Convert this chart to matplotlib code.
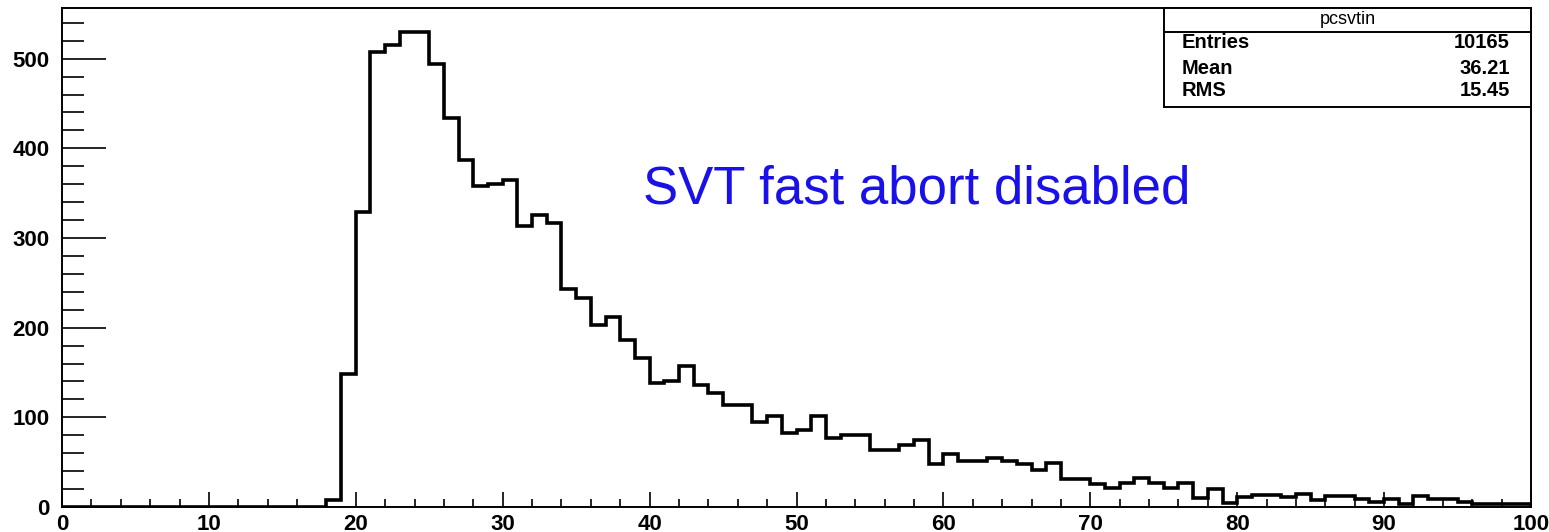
import numpy as np
import matplotlib
matplotlib.use("Agg")
import matplotlib.pyplot as plt
from matplotlib.ticker import MultipleLocator

W, H, DPI = 1549, 532, 100

# histogram pcsvtin: 100 bins on [0, 100]
BIN_LOW, BIN_HIGH, N_BINS = 0, 100, 100
COUNTS = [0] * 18 + [
    8, 148, 329, 507, 515, 530, 530, 494, 434, 387,
    358, 360, 365, 313, 326, 317, 243, 233, 203, 212,
    186, 166, 138, 141, 157, 136, 127, 114, 114, 95,
    101, 82, 86, 101, 77, 80, 80, 64, 64, 69,
    75, 48, 59, 51, 51, 55, 51, 48, 41, 49,
    31, 31, 26, 21, 27, 32, 27, 21, 27, 10,
    20, 4, 11, 13, 13, 11, 14, 8, 12, 12,
    9, 6, 9, 3, 12, 9, 9, 6, 3, 3,
    3, 3,
]

STATS_TITLE = "pcsvtin"
STATS_NAMES = ["Entries", "Mean", "RMS"]
STATS_VALUES = ["10165", "36.21", "15.45"]
NOTE = "SVT fast abort disabled"

plt.rcParams["font.family"] = ["Liberation Sans", "DejaVu Sans"]

fig = plt.figure(figsize=(W / DPI, H / DPI), dpi=DPI)
fig.patch.set_facecolor("white")

L, R, T, B = 62, 1531, 8, 507
ax = fig.add_axes([L / W, (H - B) / H, (R - L) / W, (B - T) / H])

edges = np.linspace(BIN_LOW, BIN_HIGH, N_BINS + 1)
ax.stairs(COUNTS, edges, color="black", linewidth=2.6, baseline=0)

ax.set_xlim(BIN_LOW, BIN_HIGH)
ax.set_ylim(0, max(COUNTS) * 1.05)

ax.xaxis.set_major_locator(MultipleLocator(10))
ax.xaxis.set_minor_locator(MultipleLocator(2))
ax.yaxis.set_major_locator(MultipleLocator(100))
ax.yaxis.set_minor_locator(MultipleLocator(20))

ax.tick_params(axis="x", which="major", direction="in", length=11, width=1.2, pad=5,
               labelsize=16, top=False)
ax.tick_params(axis="x", which="minor", direction="in", length=5.5, width=1.2, top=False)
ax.tick_params(axis="y", which="major", direction="in", length=32, width=1.2, pad=9,
               labelsize=16, right=False)
ax.tick_params(axis="y", which="minor", direction="in", length=16, width=1.2, right=False)
for lab in ax.get_xticklabels() + ax.get_yticklabels():
    lab.set_fontweight("bold")

for sp in ax.spines.values():
    sp.set_linewidth(1.4)
    sp.set_color("black")

ax.text((643 - L) / (R - L), (B - 203) / (B - T), NOTE, transform=ax.transAxes,
        ha="left", va="baseline", fontsize=38, color="#1a10e8")

# stats box, ROOT style
bl, br, bt, bb = 1164, 1531, 8, 107
sb = fig.add_axes([bl / W, (H - bb) / H, (br - bl) / W, (bb - bt) / H])
sb.set_xlim(0, 1)
sb.set_ylim(0, 1)
sb.set_xticks([])
sb.set_yticks([])
sb.patch.set_facecolor("white")
for sp in sb.spines.values():
    sp.set_linewidth(1.4)
sep = 1 - (32 - bt) / (bb - bt)
sb.axhline(sep, color="black", linewidth=1.4)
sb.text(0.5, 1 - (19 - bt) / (bb - bt), STATS_TITLE, ha="center", va="center", fontsize=13)
rows_y = [42, 68, 90]
for name, val, yy in zip(STATS_NAMES, STATS_VALUES, rows_y):
    fy = 1 - (yy - bt) / (bb - bt)
    sb.text(0.049, fy, name, ha="left", va="center", fontsize=14.5, fontweight="bold")
    sb.text(0.943, fy, val, ha="right", va="center", fontsize=14.5, fontweight="bold")

fig.savefig("out.png", dpi=DPI, facecolor="white")
